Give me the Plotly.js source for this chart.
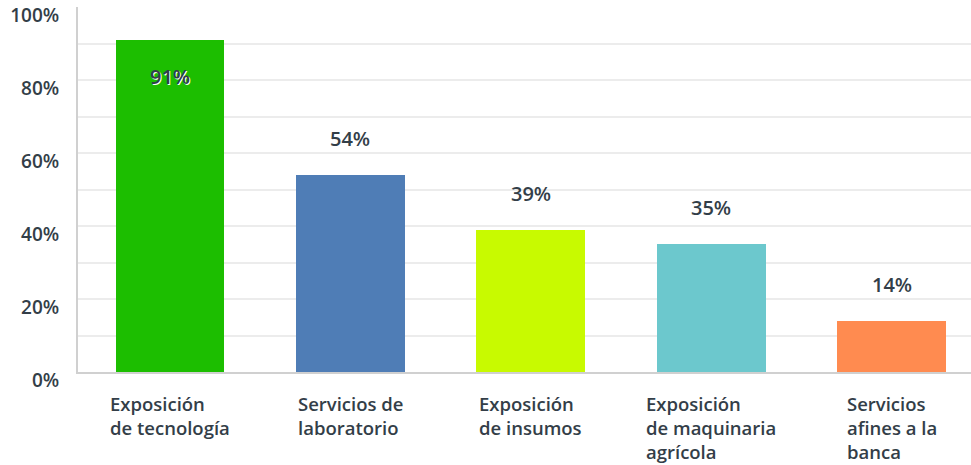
<!DOCTYPE html>
<html>
<head>
<meta charset="utf-8">
<script src="https://cdn.plot.ly/plotly-3.0.1.min.js"></script>
<style>html,body{margin:0;padding:0;background:#fff;}#chart{width:971px;height:465px;}</style>
</head>
<body>
<div id="chart"></div>
<script>
var categories = ["Exposición<br>de tecnología", "Servicios de<br>laboratorio", "Exposición<br>de insumos", "Exposición<br>de maquinaria<br>agrícola", "Servicios<br>afines a la<br>banca"];
var values = [91, 54, 39, 35, 14];
var valueLabels = ["91%", "54%", "39%", "35%", "14%"];
var colors = ["#1cbe00", "#4f7db6", "#c8fa00", "#6cc8cd", "#ff8b50"];
var yTickVals = [0, 20, 40, 60, 80, 100];
var yTickText = ["0%", "20%", "40%", "60%", "80%", "100%"];
var yGridVals = [10, 20, 30, 40, 50, 60, 70, 80, 90];

var FONT = "'Open Sans', sans-serif";
var TXT = "#333e48";
var idx = categories.map(function(_, i){ return i; });

var trace = {
  type: "bar",
  x: idx,
  y: values,
  width: 0.604,
  marker: {color: colors, line: {width: 0}},
  hoverinfo: "none"
};

var annotations = [];
values.forEach(function(v, i){
  var inside = v > 80;
  annotations.push({
    x: i, y: v, xref: "x", yref: "y",
    text: valueLabels[i], showarrow: false,
    xanchor: "center", yanchor: inside ? "top" : "bottom",
    yshift: inside ? -21 : 21,
    font: {family: FONT, size: 20, color: TXT, weight: 600, shadow: inside ? "1px 1px 0px #fff" : "none"}
  });
  annotations.push({
    x: i, y: 0, xref: "x", yref: "paper",
    text: categories[i], showarrow: false,
    xanchor: "center", yanchor: "top", align: "left",
    yshift: -17,
    font: {family: FONT, size: 18.5, color: TXT, weight: 600}
  });
});

var layout = {
  width: 971, height: 465,
  margin: {l: 78, r: 0, t: 7, b: 93},
  paper_bgcolor: "#fff", plot_bgcolor: "#fff",
  showlegend: false,
  bargap: 0,
  xaxis: {
    range: [-0.51, 4.44], showticklabels: false, ticks: "",
    showgrid: false, zeroline: false,
    showline: true, linecolor: "#d0d0d0", linewidth: 2, fixedrange: true
  },
  yaxis: {
    range: [0, 100], tickmode: "array", tickvals: yTickVals, ticktext: yTickText,
    showgrid: false, zeroline: false,
    showline: true, linecolor: "#d0d0d0", linewidth: 2,
    ticks: "", ticklabelstandoff: 13, ticklabelshift: 8,
    tickfont: {family: FONT, size: 19, color: TXT, weight: 600},
    minor: {tickmode: "array", tickvals: yGridVals, showgrid: true, gridcolor: "#ececec", gridwidth: 2, ticks: ""},
    fixedrange: true
  },
  annotations: annotations
};

Plotly.newPlot("chart", [trace], layout, {displayModeBar: false, staticPlot: true});
</script>
</body>
</html>
